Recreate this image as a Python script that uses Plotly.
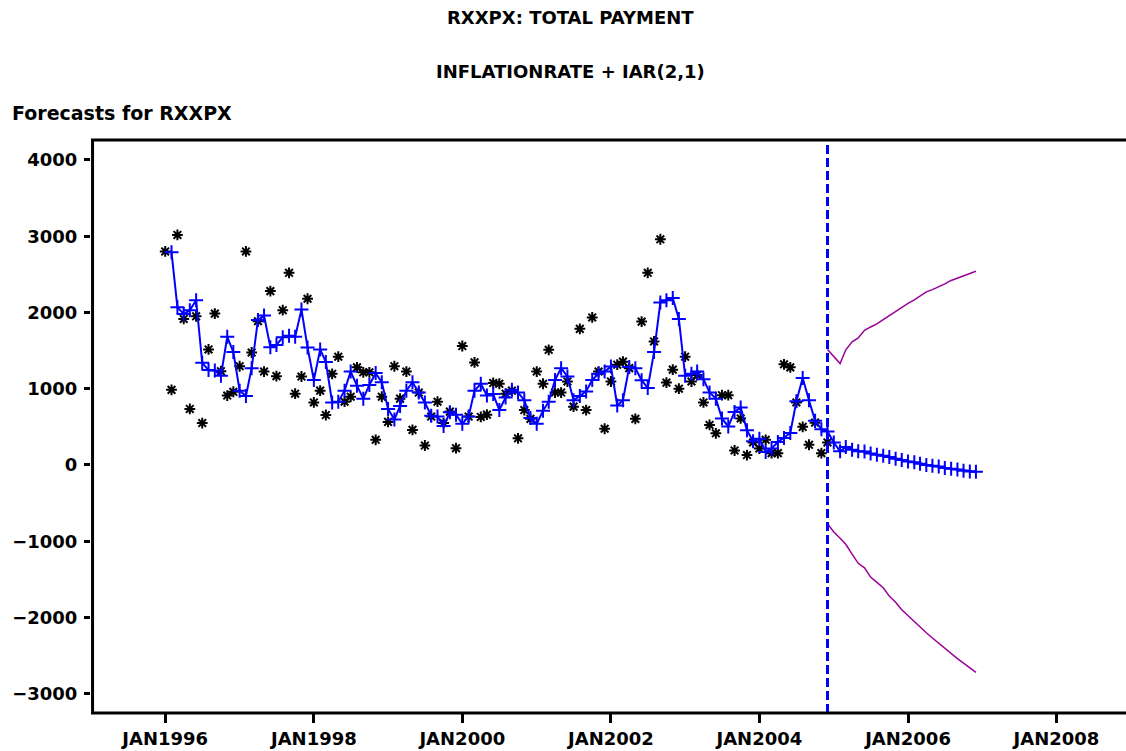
import pandas as pd
import plotly.graph_objects as go

# Observed monthly total payment, Jan 1996 - Dec 2004
actual = [
    2800, 985, 3017, 1915, 735, 1950, 550, 1515, 1985, 1230, 910, 960,
    1295, 2800, 1475, 1885, 1225, 2280, 1165, 2030, 2520, 935, 1160, 2180,
    820, 975, 655, 1195, 1420, 830, 895, 1280, 1215, 1215, 330, 895,
    565, 1295, 870, 1225, 460, 950, 255, 635, 830, 550, 700, 220,
    1560, 635, 1345, 630, 660, 1075, 1065, 935, 975, 350, 720, 605,
    1225, 1065, 1510, 950, 950, 1095, 765, 1785, 720, 1935, 1225, 475,
    1095, 1315, 1355, 1270, 605, 1880, 2520, 1620, 2960, 1080, 1250, 1000,
    1420, 1095, 1180, 820, 525, 415, 915, 915, 190, 610, 130, 295,
    215, 330, 155, 155, 1320, 1280, 820, 500, 265, 555, 155, 295,
]

# One-step-ahead and out-of-sample forecasts, Feb 1996 - Dec 2006
forecast = [
    2790, 2067, 1980, 2030, 2160, 1340, 1245, 1240, 1170, 1680, 1480,
    975, 905, 1270, 1900, 1960, 1545, 1575, 1675, 1695, 1680, 2040, 1540,
    1115, 1515, 1350, 820, 830, 975, 1225, 1040, 870, 1050, 1205, 1085,
    735, 595, 775, 975, 1085, 950, 820, 645, 635, 510, 690, 660,
    540, 635, 975, 1065, 910, 930, 720, 885, 985, 950, 850, 615,
    540, 710, 830, 1115, 1270, 1160, 850, 905, 965, 1115, 1195, 1225,
    1290, 780, 850, 1285, 1270, 1110, 1010, 1480, 2130, 2160, 2190, 1915,
    1170, 1195, 1225, 1125, 950, 870, 610, 505, 695, 755, 455, 310,
    345, 170, 215, 300, 355, 420, 835, 1140, 850, 580, 470, 440,
    295, 180, 235, 200, 180, 175, 150, 135, 120, 105, 80, 65,
    45, 35, 15, 0, -10, -20, -40, -50, -60, -75, -85, -90,
]

# 95% confidence limits, Dec 2004 - Dec 2006
upper = [
    1515, 1420, 1330, 1510, 1615, 1665, 1765, 1810, 1850, 1905, 1960, 2020,
    2075, 2120, 2165, 2215, 2270, 2300, 2335, 2375, 2420, 2450, 2485, 2515, 2540,
]
lower = [
    -770, -880, -960, -1040, -1170, -1290, -1350, -1470, -1540, -1610, -1720, -1800,
    -1900, -1980, -2050, -2130, -2200, -2270, -2340, -2400, -2470, -2540, -2600, -2660, -2720,
]

actual_dates = pd.date_range("1996-01-01", periods=len(actual), freq="MS")
forecast_dates = pd.date_range("1996-02-01", periods=len(forecast), freq="MS")
band_dates = pd.date_range("2004-12-01", periods=len(upper), freq="MS")
forecast_start = "2004-12-01"

x_tick_vals = ["1996-01-01", "1998-01-01", "2000-01-01", "2002-01-01",
               "2004-01-01", "2006-01-01", "2008-01-01"]
x_tick_text = ["JAN1996", "JAN1998", "JAN2000", "JAN2002",
               "JAN2004", "JAN2006", "JAN2008"]
y_tick_vals = [-3000, -2000, -1000, 0, 1000, 2000, 3000, 4000]

FONT = "DejaVu Sans"
BAND = "#990099"

fig = go.Figure()

fig.add_trace(go.Scatter(
    x=actual_dates, y=actual, mode="markers",
    marker=dict(symbol="asterisk-open", size=9, color="black",
                line=dict(color="black", width=2)),
    name="RXXPX",
))
fig.add_trace(go.Scatter(
    x=forecast_dates, y=forecast, mode="lines+markers",
    line=dict(color="#0000FF", width=2),
    marker=dict(symbol="cross-thin-open", size=10, color="#0000FF",
                line=dict(color="#0000FF", width=2)),
    name="FORECAST",
))
fig.add_trace(go.Scatter(
    x=band_dates, y=upper, mode="lines",
    line=dict(color=BAND, width=1.5), name="U95",
))
fig.add_trace(go.Scatter(
    x=band_dates, y=lower, mode="lines",
    line=dict(color=BAND, width=1.5), name="L95",
))

# Start of forecast horizon
fig.add_shape(type="line", xref="x", yref="paper",
              x0=forecast_start, x1=forecast_start, y0=0, y1=1,
              line=dict(color="#0000FF", width=3, dash="9px,4px"))
# Frame: left, top and bottom edges
frame = dict(color="black", width=3)
fig.add_shape(type="line", xref="paper", yref="paper",
              x0=0.0015, x1=0.0015, y0=0, y1=1, line=frame)
fig.add_shape(type="line", xref="paper", yref="paper",
              x0=0, x1=1, y0=1, y1=1, line=frame)
fig.add_shape(type="line", xref="paper", yref="paper",
              x0=0, x1=1, y0=0, y1=0, line=frame)

title_font = dict(family=FONT, size=18, color="black", weight="bold")
fig.add_annotation(text="RXXPX: TOTAL PAYMENT", xref="paper", yref="paper",
                   x=0.463, y=1.2138, xanchor="center", yanchor="middle",
                   showarrow=False, font=title_font)
fig.add_annotation(text="INFLATIONRATE + IAR(2,1)", xref="paper", yref="paper",
                   x=0.463, y=1.1204, xanchor="center", yanchor="middle",
                   showarrow=False, font=title_font)
fig.add_annotation(text="Forecasts for RXXPX", xref="paper", yref="paper",
                   x=-0.0783, y=1.0471, xanchor="left", yanchor="middle",
                   showarrow=False,
                   font=dict(family=FONT, size=19, color="black", weight="bold"))

fig.update_layout(
    width=1126, height=751,
    margin=dict(l=91, r=0, t=140, b=38),
    paper_bgcolor="white", plot_bgcolor="white",
    showlegend=False,
    font=dict(family=FONT, size=18, color="black", weight="bold"),
)
fig.update_xaxes(
    type="date", range=["1995-01-01", "2008-12-08"],
    tickmode="array", tickvals=x_tick_vals, ticktext=x_tick_text,
    ticks="outside", ticklen=9, tickwidth=3, tickcolor="black",
    showline=False, showgrid=False, zeroline=False,
    tickfont=dict(family=FONT, size=18, color="black", weight="bold"),
)
fig.update_yaxes(
    range=[-3253, 4262],
    tickmode="array", tickvals=y_tick_vals,
    ticks="outside", ticklen=6, tickwidth=3, tickcolor="black",
    showline=False, showgrid=False, zeroline=False, ticklabelstandoff=3,
    tickfont=dict(family=FONT, size=18, color="black", weight="bold"),
)

fig.write_html("out.html")
